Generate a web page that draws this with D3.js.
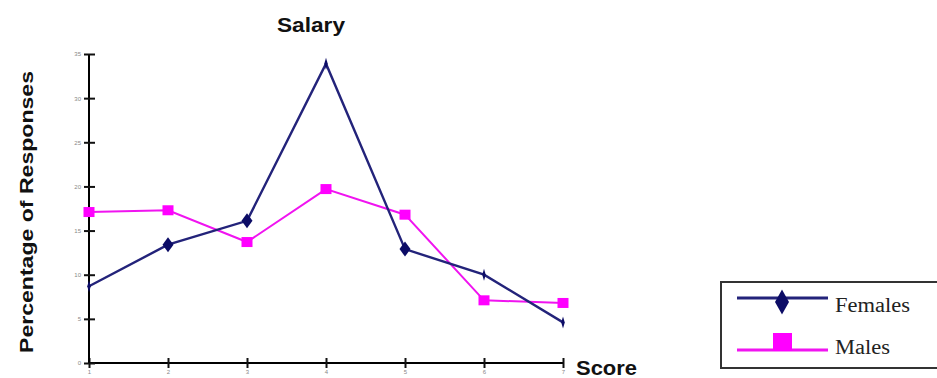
<!DOCTYPE html>
<html>
<head>
<meta charset="utf-8">
<script src="https://cdn.jsdelivr.net/npm/d3@7"></script>
<style>
  html, body { margin: 0; padding: 0; background: #fff; }
  svg { display: block; }
</style>
</head>
<body>
<svg id="chart" width="937" height="378"></svg>
<script>
// Salary survey: share of responses per score, by gender
const scores = [1, 2, 3, 4, 5, 6, 7];
const females = [8.7, 13.4, 16.1, 33.9, 12.9, 10.0, 4.6];
const males = [17.1, 17.3, 13.7, 19.7, 16.8, 7.1, 6.8];
const yTicks = [0, 5, 10, 15, 20, 25, 30, 35];
const seriesNames = ["Females", "Males"];

const svg = d3.select("#chart");
const femaleColor = "#23237a";
const femaleMark = "#0c0c66";
const maleColor = "#f014f0";

const x = d3.scaleLinear().domain([1, 7]).range([89, 563]);
const y = d3.scaleLinear().domain([0, 35]).range([363, 54]);

// axes with ticks crossing the axis line
const xAxis = d3.axisBottom(x).tickValues(scores).tickSizeInner(5).tickSizeOuter(0).tickPadding(2)
  .tickFormat(d3.format("d"));
const gx = svg.append("g").attr("transform", "translate(0,363)").call(xAxis);
gx.select(".domain").attr("stroke", "#000").attr("stroke-width", 2).attr("d", "M89,0H563");
gx.selectAll(".tick line").attr("y1", -5).attr("y2", 5).attr("stroke", "#111").attr("stroke-width", 2);
gx.selectAll(".tick text").attr("y", 7).attr("font-size", 6).attr("fill", "#888")
  .attr("font-family", "Liberation Sans, Arial, sans-serif");

const yAxis = d3.axisLeft(y).tickValues(yTicks).tickSizeInner(5).tickSizeOuter(0).tickPadding(3);
const gy = svg.append("g").attr("transform", "translate(89,0)").call(yAxis);
gy.select(".domain").attr("stroke", "#000").attr("stroke-width", 2).attr("d", "M0,363V54");
gy.selectAll(".tick line").attr("x1", -5).attr("x2", 6).attr("stroke", "#111").attr("stroke-width", 2);
gy.selectAll(".tick text").attr("x", -8).attr("font-size", 6).attr("fill", "#888")
  .attr("font-family", "Liberation Sans, Arial, sans-serif");

// lines
const line = d3.line().x((d, i) => x(scores[i])).y(d => y(d));

svg.append("path").datum(males).attr("d", line)
  .attr("fill", "none").attr("stroke", maleColor).attr("stroke-width", 2);
svg.append("path").datum(females).attr("d", line)
  .attr("fill", "none").attr("stroke", femaleColor).attr("stroke-width", 2.4);

// male square markers
svg.append("g").selectAll("rect").data(males).join("rect")
  .attr("x", (d, i) => x(scores[i]) - 5.5)
  .attr("y", d => y(d) - 5)
  .attr("width", 11).attr("height", 10)
  .attr("fill", "#ff00ff");

// female markers: full diamonds on some points, thin upright marks on the rest
const thinMarks = new Set([0, 3, 5, 6]);
const diamond = (cx, cy, w, h) =>
  `M${cx},${cy - h / 2}L${cx + w / 2},${cy}L${cx},${cy + h / 2}L${cx - w / 2},${cy}Z`;
svg.append("g").selectAll("path").data(females).join("path")
  .attr("d", (d, i) => thinMarks.has(i)
    ? diamond(x(scores[i]), y(d), 3.5, 12)
    : diamond(x(scores[i]), y(d), 11, 15))
  .attr("fill", femaleMark);

// titles
const sans = "Liberation Sans, Arial, Helvetica, sans-serif";
svg.append("text").attr("x", 277).attr("y", 32).text("Salary")
  .attr("font-family", sans).attr("font-weight", "bold").attr("font-size", 20)
  .attr("textLength", 68).attr("lengthAdjust", "spacingAndGlyphs").attr("fill", "#111");

svg.append("text").attr("transform", "translate(33,353) rotate(-90)")
  .text("Percentage of Responses")
  .attr("font-family", sans).attr("font-weight", "bold").attr("font-size", 18)
  .attr("textLength", 282).attr("lengthAdjust", "spacingAndGlyphs").attr("fill", "#111");

svg.append("text").attr("x", 576).attr("y", 375).text("Score")
  .attr("font-family", sans).attr("font-weight", "bold").attr("font-size", 20)
  .attr("textLength", 61).attr("lengthAdjust", "spacingAndGlyphs").attr("fill", "#111");

// legend
const lg = svg.append("g");
lg.append("rect").attr("x", 721).attr("y", 282).attr("width", 240).attr("height", 86)
  .attr("fill", "#fff").attr("stroke", "#333").attr("stroke-width", 2);

lg.append("line").attr("x1", 737).attr("x2", 828).attr("y1", 298).attr("y2", 298)
  .attr("stroke", femaleColor).attr("stroke-width", 3);
lg.append("path").attr("d", diamond(782, 302, 14, 25)).attr("fill", femaleMark);

lg.append("line").attr("x1", 737).attr("x2", 828).attr("y1", 350).attr("y2", 350)
  .attr("stroke", maleColor).attr("stroke-width", 3);
lg.append("rect").attr("x", 773).attr("y", 333).attr("width", 19).attr("height", 18)
  .attr("fill", "#ff00ff");

const serif = "Liberation Serif, Times New Roman, serif";
lg.append("text").attr("x", 835).attr("y", 312).text(seriesNames[0])
  .attr("font-family", serif).attr("font-size", 20).attr("fill", "#222")
  .attr("textLength", 75).attr("lengthAdjust", "spacingAndGlyphs");
lg.append("text").attr("x", 835).attr("y", 354).text(seriesNames[1])
  .attr("font-family", serif).attr("font-size", 20).attr("fill", "#222")
  .attr("textLength", 55).attr("lengthAdjust", "spacingAndGlyphs");
</script>
</body>
</html>
